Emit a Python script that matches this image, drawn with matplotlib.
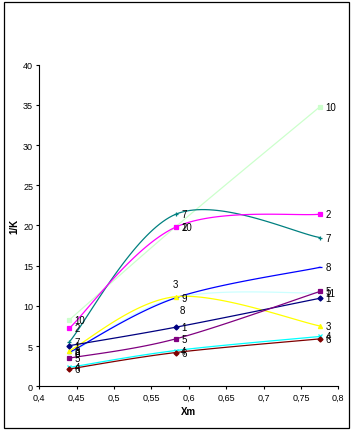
import numpy as np
import matplotlib
matplotlib.use("Agg")
import matplotlib.pyplot as plt
from matplotlib.patches import Rectangle
from matplotlib.ticker import FuncFormatter

plt.rcParams['font.family'] = ['Liberation Sans', 'DejaVu Sans']

# x positions (Xm) of the three measurements
xm = [0.44, 0.5825, 0.7755]

# 1/K values per series
s1 = [5.05, 7.35, 10.95]
s2 = [7.2, 19.8, 21.4]
s3 = [4.4, 11.15, 7.5]
s4 = [2.35, 4.45, 6.2]
s5 = [3.5, 5.9, 11.8]
s6 = [2.15, 4.2, 5.9]
s7 = [5.5, 21.4, 18.5]
s8 = [4.2, 11.0, 14.8]
s9 = [4.0, 11.0, 11.6]
s10 = [8.25, 19.85, 34.78]

# data labels written next to each point
lab1 = ["1", "1", "1"]
lab2 = ["2", "2", "2"]
lab3 = ["3", "3", "3"]
lab4 = ["4", "4", "4"]
lab5 = ["5", "5", "5"]
lab6 = ["6", "6", "6"]
lab7 = ["7", "7", "7"]
lab8 = ["8", "8", "8"]
lab9 = ["9", "9", "11"]
lab10 = ["10", "10", "10"]

xticks = [0.4, 0.45, 0.5, 0.55, 0.6, 0.65, 0.7, 0.75, 0.8]
yticks = [0, 5, 10, 15, 20, 25, 30, 35, 40]

series = [
    # values, labels, colour, marker, size
    (s10, lab10, "#CCFFCC", "s", 2.8),
    (s9, lab9, "#CCFFFF", "None", 2.5),
    (s7, lab7, "#008080", "+", 3.5),
    (s2, lab2, "#FF00FF", "s", 2.8),
    (s8, lab8, "#0000FF", "_", 3.5),
    (s3, lab3, "#FFFF00", "^", 3),
    (s1, lab1, "#000080", "D", 2.6),
    (s5, lab5, "#800080", "s", 2.2),
    (s4, lab4, "#00FFFF", "x", 3),
    (s6, lab6, "#800000", "D", 2.6),
]

# label offsets (points) for a few crowded data labels
offsets = {("3", 1): (-2, 9), ("8", 1): (3, -9)}


def smooth(x, y, n=40):
    # Excel-style smoothed line: cubic Bezier with 1/6 tangents
    x = np.asarray(x, float)
    y = np.asarray(y, float)
    px, py = [], []
    k = len(x)
    for i in range(k - 1):
        i0 = max(i - 1, 0)
        i3 = min(i + 2, k - 1)
        c1x = x[i] + (x[i + 1] - x[i0]) / 6
        c1y = y[i] + (y[i + 1] - y[i0]) / 6
        c2x = x[i + 1] - (x[i3] - x[i]) / 6
        c2y = y[i + 1] - (y[i3] - y[i]) / 6
        t = np.linspace(0, 1, n)
        a, b, c, d = (1 - t) ** 3, 3 * (1 - t) ** 2 * t, 3 * (1 - t) * t ** 2, t ** 3
        px.extend(a * x[i] + b * c1x + c * c2x + d * x[i + 1])
        py.extend(a * y[i] + b * c1y + c * c2y + d * y[i + 1])
    return px, py


fig = plt.figure(figsize=(3.52, 4.31), dpi=100)
ax = fig.add_axes([0.1117, 0.1014, 0.8494, 0.7462])

for vals, labs, col, mk, ms in series:
    sx, sy = smooth(xm, vals)
    ax.plot(sx, sy, color=col, lw=0.9, zorder=2)
    ax.plot(xm, vals, ls="None", marker=mk, color=col, ms=ms, mew=0.9, zorder=3)

for vals, labs, col, mk, ms in series:
    for j, (xv, yv) in enumerate(zip(xm, vals)):
        off = offsets.get((labs[j], j), (4, 0))
        ax.annotate(labs[j], (xv, yv), xytext=off, textcoords="offset points",
                    fontsize=7, color="black", va="center", ha="left", zorder=4)

ax.set_xlim(0.4, 0.8)
ax.set_ylim(0, 40)
ax.set_xticks(xticks)
ax.set_yticks(yticks)
ax.xaxis.set_major_formatter(FuncFormatter(lambda v, p: ("%g" % v).replace(".", ",")))
ax.tick_params(labelsize=6.5, length=2.5, width=0.8, pad=2)
for s in ["top", "right"]:
    ax.spines[s].set_visible(False)
for s in ["left", "bottom"]:
    ax.spines[s].set_linewidth(0.8)

ax.set_xlabel("Xm", fontsize=7, fontweight="bold", labelpad=3)
ax.set_ylabel("1/K", fontsize=7, fontweight="bold", labelpad=3)

fig.patches.append(Rectangle((3.5 / 352, 2.5 / 431), 345.5 / 352, 425.5 / 431,
                             transform=fig.transFigure, fill=False,
                             edgecolor="black", lw=0.9))

fig.savefig("out.png", dpi=100)
